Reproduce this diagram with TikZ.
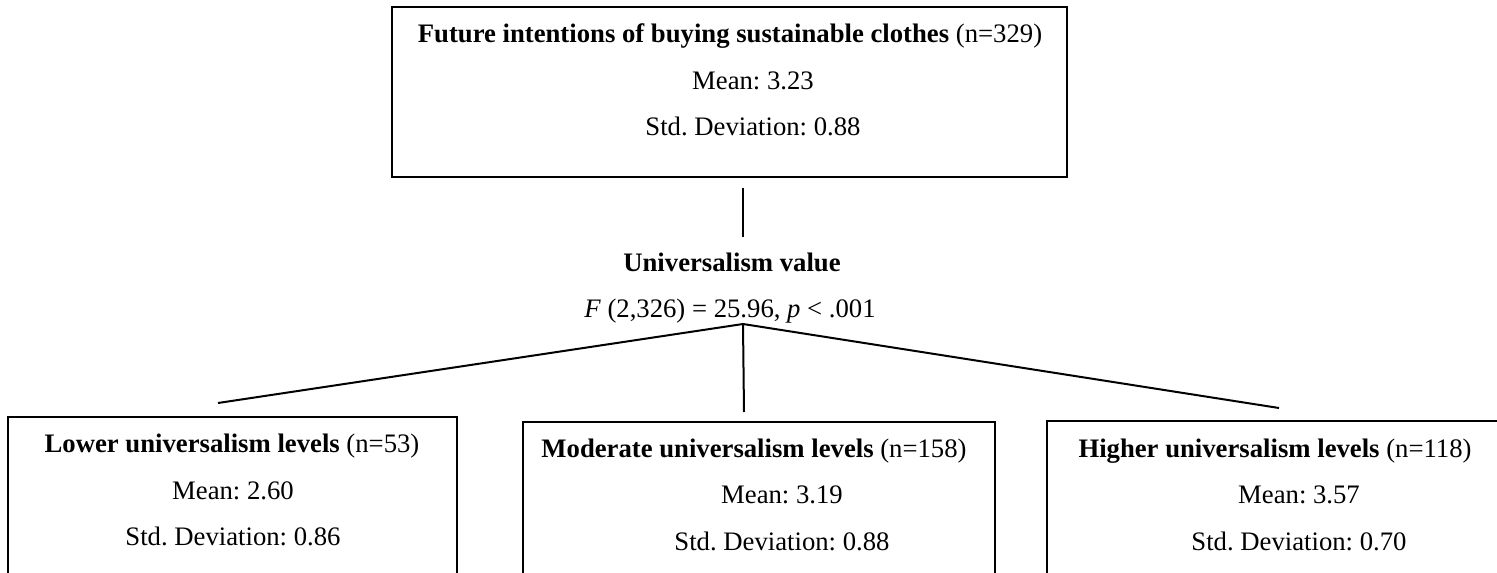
\documentclass[tikz,border=0pt]{standalone}
\usepackage{fontspec}
\setmainfont{Liberation Serif}
\begin{document}
\frenchspacing
\begin{tikzpicture}[x=1pt,y=-1pt,
  box/.style={draw=black,line width=2pt,inner sep=0pt,rectangle},
  lbl/.style={inner sep=0pt,anchor=base,font=\fontsize{26.7}{32}\selectfont},
  conn/.style={draw=black,line width=2pt}]
\useasboundingbox (0,0) rectangle (1497,573);
\clip (0,0) rectangle (1497,573);
% boxes
\node[box,minimum width=675pt,minimum height=170pt] (top) at (729.5,92) {};
\node[box,minimum width=449pt,minimum height=200pt] (lowbox) at (232.5,517) {};
\node[box,minimum width=472pt,minimum height=200pt] (modbox) at (759,522) {};
\node[box,minimum width=500pt,minimum height=200pt] (highbox) at (1297,521) {};
% top texts
\node[lbl] (ttitle) at (730,42) {\textbf{Future intentions of buying sustainable clothes} (n=329)};
\node[lbl] (tmean) at (753,89) {Mean: 3.23};
\node[lbl] (tsd) at (753,135) {Std. Deviation: 0.88};
% middle texts
\node[lbl] (uv) at (732,271) {\textbf{Universalism value}};
\node[lbl] (ftest) at (730,317) {\textit{F} (2,326) = 25.96, \textit{p} < .001};
% left texts
\node[lbl] (ltitle) at (232,452) {\textbf{Lower universalism levels} (n=53)};
\node[lbl] (lmean) at (233,499) {Mean: 2.60};
\node[lbl] (lsd) at (233,545) {Std. Deviation: 0.86};
% moderate texts
\node[lbl] (mtitle) at (754,457) {\textbf{Moderate universalism levels} (n=158)};
\node[lbl] (mmean) at (782,503) {Mean: 3.19};
\node[lbl] (msd) at (782,550) {Std. Deviation: 0.88};
% higher texts
\node[lbl] (htitle) at (1275,457) {\textbf{Higher universalism levels} (n=118)};
\node[lbl] (hmean) at (1299,503) {Mean: 3.57};
\node[lbl] (hsd) at (1299,550) {Std. Deviation: 0.70};
% connector coordinates
\coordinate (t1) at (743,188);
\coordinate (t2) at (743,237);
\coordinate (apex) at (743,324);
\coordinate (endL) at (218,403);
\coordinate (endM) at (744,412);
\coordinate (endR) at (1279,408);
\draw[conn] (t1) -- (t2);
\draw[conn] (endL) -- (apex) -- (endR);
\draw[conn] (apex) -- (endM);
\end{tikzpicture}
\end{document}
